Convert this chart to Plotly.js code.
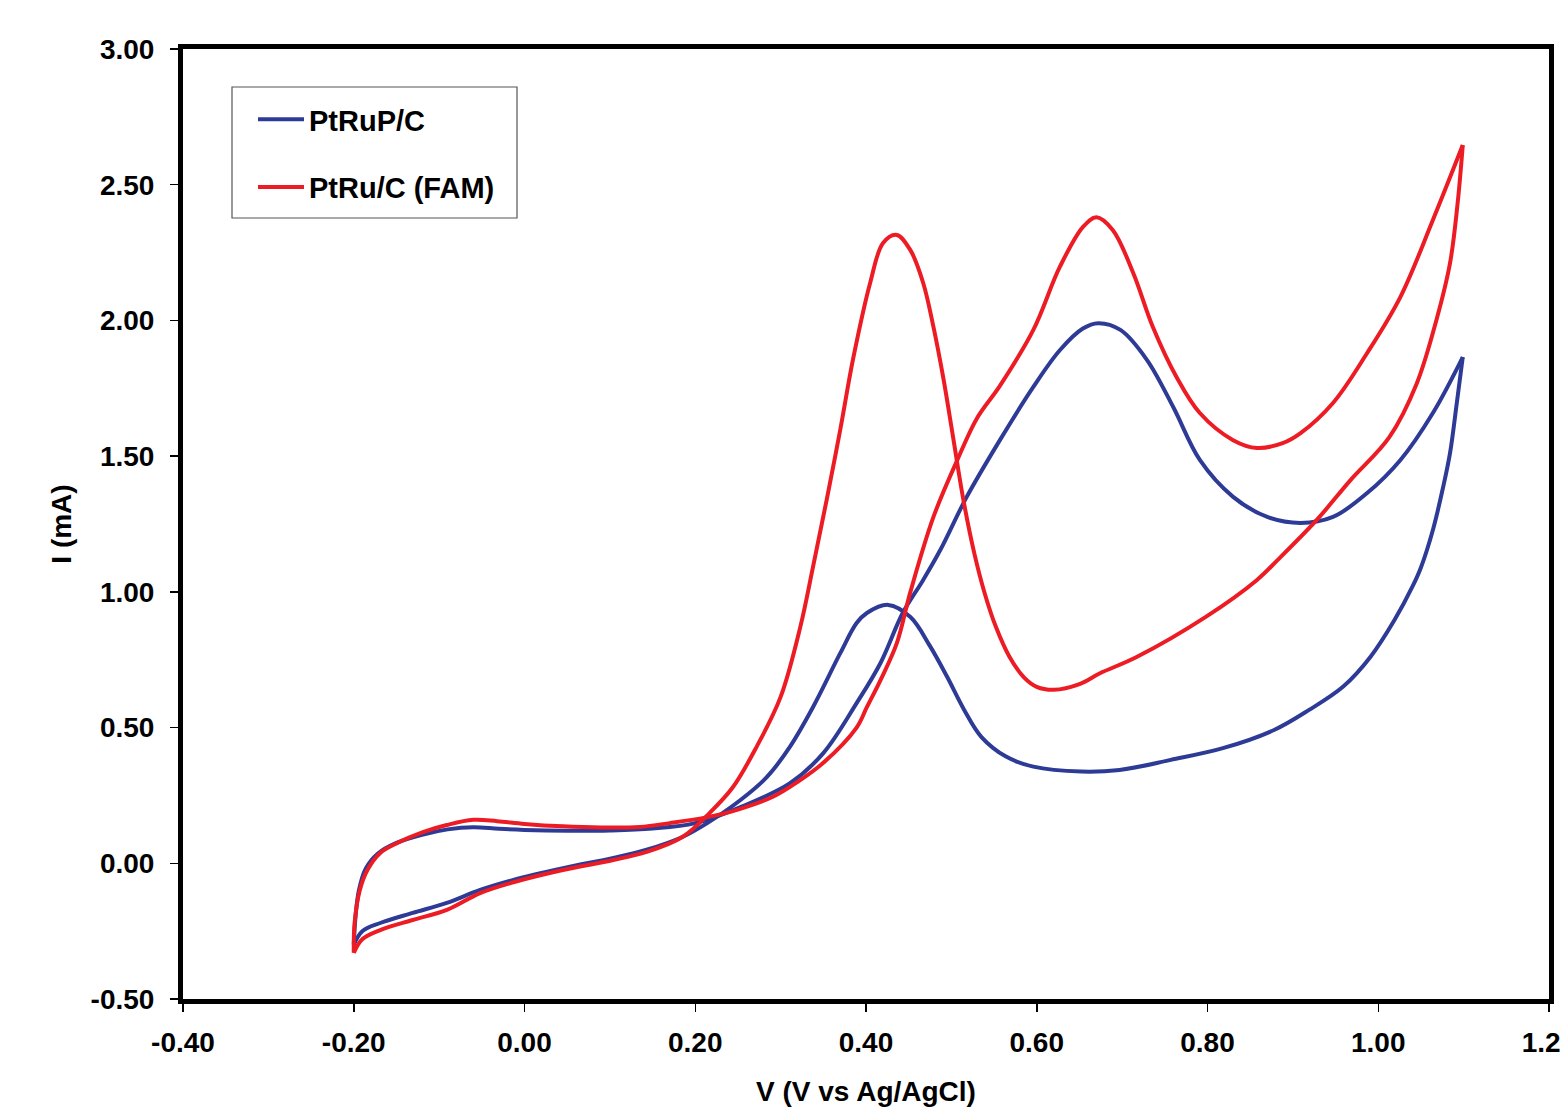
<!DOCTYPE html>
<html>
<head>
<meta charset="utf-8">
<script src="https://cdn.plot.ly/plotly-3.0.1.min.js"></script>
<style>
  html, body { margin: 0; padding: 0; background: #ffffff; }
  #chart { width: 1561px; height: 1107px; }
</style>
</head>
<body>
<div id="chart"></div>
<script>
// ---- Data ----
// PtRuP/C : forward (anodic) scan from -0.20 V to 1.10 V
const ptrupForwardV = [-0.200, -0.198, -0.194, -0.186, -0.172, -0.150, -0.120, -0.090, -0.060, -0.030, 0.000, 0.050, 0.100, 0.150, 0.200, 0.253, 0.311, 0.350, 0.389, 0.417, 0.443, 0.467, 0.487, 0.518, 0.557, 0.596, 0.627, 0.654, 0.672, 0.698, 0.729, 0.760, 0.791, 0.830, 0.870, 0.909, 0.947, 0.987, 1.026, 1.064, 1.099];
const ptrupForwardI = [-0.300, -0.200, -0.100, -0.020, 0.035, 0.075, 0.105, 0.125, 0.133, 0.127, 0.123, 0.120, 0.121, 0.128, 0.148, 0.207, 0.295, 0.406, 0.590, 0.738, 0.922, 1.044, 1.154, 1.350, 1.560, 1.755, 1.890, 1.970, 1.990, 1.965, 1.855, 1.680, 1.486, 1.350, 1.276, 1.254, 1.276, 1.364, 1.486, 1.659, 1.865];
// PtRuP/C : reverse (cathodic) scan from 1.10 V back to -0.20 V
const ptrupReverseV = [1.099, 1.092, 1.084, 1.076, 1.064, 1.050, 1.040, 1.019, 0.991, 0.959, 0.919, 0.878, 0.818, 0.757, 0.697, 0.652, 0.596, 0.564, 0.535, 0.515, 0.495, 0.475, 0.452, 0.426, 0.401, 0.389, 0.370, 0.338, 0.311, 0.284, 0.253, 0.214, 0.185, 0.143, 0.104, 0.045, -0.013, -0.052, -0.091, -0.131, -0.169, -0.190, -0.200];
const ptrupReverseI = [1.865, 1.696, 1.510, 1.386, 1.228, 1.090, 1.019, 0.896, 0.761, 0.651, 0.565, 0.491, 0.424, 0.381, 0.344, 0.338, 0.356, 0.393, 0.466, 0.565, 0.687, 0.800, 0.907, 0.952, 0.922, 0.885, 0.775, 0.576, 0.430, 0.318, 0.233, 0.148, 0.097, 0.050, 0.020, -0.018, -0.061, -0.098, -0.146, -0.183, -0.220, -0.250, -0.300];

// PtRu/C (FAM) : forward scan
const famForwardV = [-0.200, -0.199, -0.193, -0.184, -0.169, -0.149, -0.119, -0.091, -0.060, -0.032, 0.000, 0.045, 0.090, 0.135, 0.170, 0.214, 0.250, 0.291, 0.320, 0.350, 0.389, 0.401, 0.417, 0.436, 0.452, 0.479, 0.507, 0.530, 0.557, 0.596, 0.627, 0.654, 0.670, 0.689, 0.713, 0.736, 0.764, 0.791, 0.830, 0.858, 0.888, 0.909, 0.947, 0.987, 1.026, 1.064, 1.099];
const famForwardI = [-0.330, -0.220, -0.100, -0.025, 0.038, 0.075, 0.115, 0.141, 0.160, 0.155, 0.145, 0.136, 0.132, 0.134, 0.148, 0.170, 0.198, 0.245, 0.300, 0.370, 0.500, 0.575, 0.675, 0.810, 1.000, 1.276, 1.486, 1.640, 1.760, 1.965, 2.197, 2.344, 2.380, 2.333, 2.175, 1.976, 1.790, 1.659, 1.559, 1.530, 1.548, 1.585, 1.696, 1.880, 2.087, 2.370, 2.646];
// PtRu/C (FAM) : reverse scan
const famReverseV = [1.099, 1.093, 1.084, 1.068, 1.045, 1.013, 0.967, 0.928, 0.882, 0.858, 0.798, 0.717, 0.674, 0.650, 0.620, 0.600, 0.585, 0.568, 0.552, 0.539, 0.527, 0.514, 0.502, 0.491, 0.479, 0.467, 0.452, 0.436, 0.420, 0.405, 0.385, 0.370, 0.354, 0.338, 0.323, 0.300, 0.272, 0.244, 0.217, 0.185, 0.143, 0.104, 0.045, -0.013, -0.052, -0.091, -0.131, -0.169, -0.190, -0.200];
const famReverseI = [2.646, 2.433, 2.210, 2.000, 1.767, 1.570, 1.410, 1.265, 1.117, 1.044, 0.908, 0.760, 0.700, 0.660, 0.639, 0.650, 0.685, 0.761, 0.872, 0.995, 1.140, 1.340, 1.570, 1.780, 1.976, 2.138, 2.259, 2.315, 2.285, 2.140, 1.860, 1.600, 1.340, 1.093, 0.870, 0.613, 0.430, 0.280, 0.186, 0.097, 0.042, 0.012, -0.025, -0.070, -0.110, -0.172, -0.209, -0.246, -0.280, -0.330];

const seriesNames = ["PtRuP/C", "PtRu/C (FAM)"];
const seriesColors = ["#2E3B96", "#ED1C24"];

// Axis ticks
const xTickVals = [-0.4, -0.2, 0.0, 0.2, 0.4, 0.6, 0.8, 1.0, 1.2];
const xTickText = ["-0.40", "-0.20", "0.00", "0.20", "0.40", "0.60", "0.80", "1.00", "1.20"];
const yTickVals = [-0.5, 0.0, 0.5, 1.0, 1.5, 2.0, 2.5, 3.0];
const yTickText = ["-0.50", "0.00", "0.50", "1.00", "1.50", "2.00", "2.50", "3.00"];

const FONT = "Liberation Sans, Arial, Helvetica, sans-serif";

function mk(x, y, i, showLegend) {
  return {
    x: x, y: y, type: "scatter", mode: "lines",
    name: seriesNames[i], legendgroup: "g" + i, showlegend: showLegend,
    line: { color: seriesColors[i], width: 4, shape: "spline", smoothing: 1.0 },
    hoverinfo: "x+y+name"
  };
}

const traces = [
  mk(ptrupForwardV, ptrupForwardI, 0, true),
  mk(ptrupReverseV, ptrupReverseI, 0, false),
  mk(famForwardV, famForwardI, 1, true),
  mk(famReverseV, famReverseI, 1, false)
];

const W = 1561, H = 1107;
const L = 183, R = 12, T = 49, B = 108;
const pw = W - L - R, ph = H - T - B;
function px2x(p) { return (p - L) / pw; }
function py2y(p) { return (H - B - p) / ph; }

const layout = {
  width: W, height: H,
  margin: { l: L, r: R, t: T, b: B, pad: 0 },
  paper_bgcolor: "#ffffff", plot_bgcolor: "#ffffff",
  font: { family: FONT, size: 29, color: "#000000", weight: "bold" },
  showlegend: true,
  legend: {
    x: px2x(253), y: py2y(94), xanchor: "left", yanchor: "top",
    bgcolor: "rgba(0,0,0,0)", borderwidth: 0,
    font: { family: FONT, size: 29, color: "#000000", weight: "bold" },
    traceorder: "grouped", tracegroupgap: 27, itemwidth: 46
  },
  xaxis: {
    range: [-0.4, 1.2], tickmode: "array", tickvals: xTickVals, ticktext: xTickText,
    showgrid: false, zeroline: false,
    showline: true, linecolor: "#000000", linewidth: 5, mirror: true,
    ticks: "outside", ticklen: 8, tickwidth: 1.5, tickcolor: "#000000",
    tickfont: { family: FONT, size: 28, color: "#000000", weight: "bold" },
    ticklabelstandoff: 6, ticklabeloverflow: "allow",
    title: { text: "V (V vs Ag/AgCl)", font: { family: FONT, size: 28, color: "#000000", weight: "bold" }, standoff: 27 },
    automargin: false
  },
  yaxis: {
    range: [-0.5, 3.0], tickmode: "array", tickvals: yTickVals, ticktext: yTickText,
    showgrid: false, zeroline: false,
    showline: true, linecolor: "#000000", linewidth: 5, mirror: true,
    ticks: "outside", ticklen: 8, tickwidth: 1.5, tickcolor: "#000000",
    tickfont: { family: FONT, size: 28, color: "#000000", weight: "bold" },
    ticklabelstandoff: 10,
    title: { text: "I (mA)", font: { family: FONT, size: 28, color: "#000000", weight: "bold" }, standoff: 12 },
    automargin: false
  },
  shapes: [
    { type: "rect", xref: "paper", yref: "paper",
      x0: px2x(232), x1: px2x(517), y0: py2y(218), y1: py2y(87),
      line: { color: "#555555", width: 1.2 }, fillcolor: "rgba(0,0,0,0)", layer: "above" }
  ]
};

Plotly.newPlot("chart", traces, layout, { displayModeBar: false, staticPlot: true });
</script>
</body>
</html>
